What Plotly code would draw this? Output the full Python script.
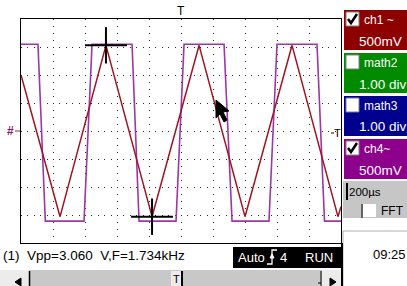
import plotly.graph_objects as go

# ---------------- data ----------------
time_us_ch1 = [0, 244, 531, 819, 1113, 1400, 1694, 1981, 2000]
ch1_volts = [1.00, -1.53, 1.53, -1.53, 1.53, -1.53, 1.53, -1.53, -1.35]

time_us_ch4 = [0, 106, 152, 394, 444, 694, 738, 969, 1019, 1269, 1319, 1550, 1600, 1850, 1897, 2000]
ch4_volts = [1.55, 1.55, -1.61, -1.61, 1.55, 1.55, -1.61, -1.61, 1.55, 1.55, -1.61, -1.61, 1.55, 1.55, -1.61, -1.61]

cursor_time_us = [531, 819]
cursor_volts = [1.53, -1.53]

x_ticks_us = [0, 200, 400, 600, 800, 1000, 1200, 1400, 1600, 1800, 2000]
y_ticks_v = [-2.0, -1.5, -1.0, -0.5, 0.0, 0.5, 1.0, 1.5, 2.0]
trigger_time_us = 1000

panel_labels = ["ch1 ~", "math2", "math3", "ch4~"]
panel_values = ["500mV", "1.00 div", "1.00 div", "500mV"]
panel_colors = ["#8e0000", "#008a00", "#00008e", "#8c008c"]
panel_checked = [True, False, False, True]
timebase_text = "200µs"
fft_text = "FFT"
clock_text = "09:25"
measure_text = "(1)\u00a0\u00a0Vpp=3.060\u00a0\u00a0V,F=1.734kHz"
status_texts = ["Auto", "4", "RUN"]

# ---------------- geometry helpers (pixel -> paper) ----------------
W, H = 407, 286
L, R, T, B = 21, 341, 19, 243


def px(x):
    return (x - L) / (R - L)


def py(y):
    return (B - y) / (B - T)


shapes = []
annots = []
FONT = "Liberation Sans, Arial, sans-serif"


def rect(x0, y0, x1, y1, fill, line=None, lw=1):
    shapes.append(dict(type="rect", xref="paper", yref="paper",
                       x0=px(x0), x1=px(x1), y0=py(y1), y1=py(y0),
                       fillcolor=fill, layer="above",
                       line=dict(color=line or fill, width=lw if line else 0)))


def seg(x0, y0, x1, y1, color="black", lw=1):
    shapes.append(dict(type="line", xref="paper", yref="paper",
                       x0=px(x0), x1=px(x1), y0=py(y0), y1=py(y1), layer="above",
                       line=dict(color=color, width=lw)))


def poly(pts, fill=None, color="black", lw=1, closed=True):
    d = "M " + " L ".join(f"{px(a):.5f},{py(b):.5f}" for a, b in pts)
    if closed:
        d += " Z"
    shapes.append(dict(type="path", xref="paper", yref="paper", path=d, layer="above",
                       fillcolor=fill if fill else "rgba(0,0,0,0)",
                       line=dict(color=color, width=lw)))


def text(x, y, s, size=12, color="black", xanchor="left"):
    annots.append(dict(xref="paper", yref="paper", x=px(x), y=py(y), text=s,
                       showarrow=False, xanchor=xanchor, yanchor="middle",
                       borderpad=0, font=dict(family=FONT, size=size, color=color)))


# ---------------- figure ----------------
fig = go.Figure()
fig.add_trace(go.Scatter(x=time_us_ch4, y=ch4_volts, mode="lines",
                         line=dict(color="#9c37a6", width=1.6), hoverinfo="skip"))
fig.add_trace(go.Scatter(x=time_us_ch1, y=ch1_volts, mode="lines",
                         line=dict(color="#a01422", width=1.5), hoverinfo="skip"))
fig.add_trace(go.Scatter(x=cursor_time_us, y=cursor_volts, mode="markers",
                         marker=dict(symbol="line-ew", size=30, color="black",
                                     line=dict(color="black", width=2)), hoverinfo="skip"))
fig.add_trace(go.Scatter(x=cursor_time_us, y=cursor_volts, mode="markers",
                         marker=dict(symbol="line-ns", size=26, color="black",
                                     line=dict(color="black", width=2)), hoverinfo="skip"))

# trigger position marker above the grid
annots.append(dict(xref="x", yref="paper", x=trigger_time_us, y=1.0, text="T", showarrow=False,
                   xanchor="center", yanchor="bottom", yshift=-1,
                   font=dict(family=FONT, size=12, color="black")))
# ground marker on the left
annots.append(dict(xref="paper", yref="y", x=px(10), y=0, text="<b>#</b>", showarrow=False,
                   xanchor="center", yanchor="middle",
                   font=dict(family=FONT, size=12, color="#8a2060")))
shapes.append(dict(type="line", xref="paper", yref="y", x0=px(15), x1=px(20), y0=0, y1=0,
                   line=dict(color="#8a2060", width=1)))
# trigger level marker at right
text(337, 133, "T", size=11, xanchor="center")
seg(331, 133, 334, 133)

# mouse pointer
tip = (216, 100)
arrow = [(0, 0), (0, 18), (4, 14), (8, 22), (11, 20), (7, 12), (13, 11)]
poly([(tip[0] + a, tip[1] + b) for a, b in arrow], fill="black", color="black", lw=1)

# ---------------- right panel ----------------
tops = [10, 53, 96, 139]
for top, lab, val, col, chk in zip(tops, panel_labels, panel_values, panel_colors, panel_checked):
    rect(344, top, 412, top + 40, col)
    rect(346, top + 2, 359, top + 16, "white", line="#808080", lw=1)
    if chk:
        poly([(348, top + 9), (351, top + 13), (357, top + 4)], color="black", lw=2.5, closed=False)
    text(363, top + 10, lab, size=12, color="white")
    text(358, top + 31, val, size=13.5, color="white")

# timebase / FFT box
rect(343, 181, 412, 218, "#c6c6c6")
seg(347, 183, 347, 200, lw=2)
text(348, 192, timebase_text, size=11.5)
rect(363, 204, 376, 217, "white")
seg(362, 204, 362, 218)
text(380, 211, fft_text, size=12)

# clock box
rect(343, 231, 412, 290, "white", line="#b0b0b0")
text(372, 254, clock_text, size=13)

# ---------------- bottom status ----------------
text(2, 256, measure_text, size=13.5)
rect(233, 247, 342, 268, "black")
text(237, 257, status_texts[0], size=13, color="white")
poly([(267, 264), (272, 264), (272, 250), (277, 250)], color="white", lw=1.3, closed=False)
poly([(270, 258), (274, 258), (272, 254)], fill="white", color="white", lw=1)
text(279, 257, status_texts[1], size=13, color="white")
text(304, 257, status_texts[2], size=13, color="white")

# scrollbar
rect(0, 270, 343, 287, "#c8c8c8")
rect(0, 270, 29, 287, "#ececec")
seg(29.5, 271, 29.5, 287, lw=1.5)
poly([(15, 282), (21, 278), (21, 286)], fill="black", color="black", lw=1)
rect(171, 271, 182, 287, "#ececec")
text(176.5, 279, "T", size=11, xanchor="center")
seg(182, 271, 182, 287, lw=2)
seg(321, 271, 321, 287)
seg(318, 283, 321, 283)
rect(322, 270, 341, 287, "#ececec")
poly([(330, 278), (336, 282), (330, 286)], fill="black", color="black", lw=1)
seg(342, 243, 342, 287, lw=2)

fig.update_xaxes(range=[0, 2000], tickvals=x_ticks_us, showticklabels=False, ticks="",
                 showgrid=True, gridcolor="#2a2a2a", griddash="1px,6px", gridwidth=1,
                 zeroline=False, showline=True, linecolor="black", linewidth=1, mirror=True)
fig.update_yaxes(range=[-2, 2], tickvals=y_ticks_v, showticklabels=False, ticks="",
                 showgrid=True, gridcolor="#2a2a2a", griddash="1px,5.4px", gridwidth=1,
                 zeroline=False, showline=True, linecolor="black", linewidth=1, mirror=True)

fig.update_layout(width=W, height=H, margin=dict(l=L, r=W - R, t=T, b=H - B, pad=0, autoexpand=False),
                  paper_bgcolor="white", plot_bgcolor="white", showlegend=False,
                  shapes=shapes, annotations=annots, hovermode=False)

fig.write_html("out.html", config={"displayModeBar": False},
               post_script="document.body.style.margin='0';document.body.style.overflow='hidden';")
